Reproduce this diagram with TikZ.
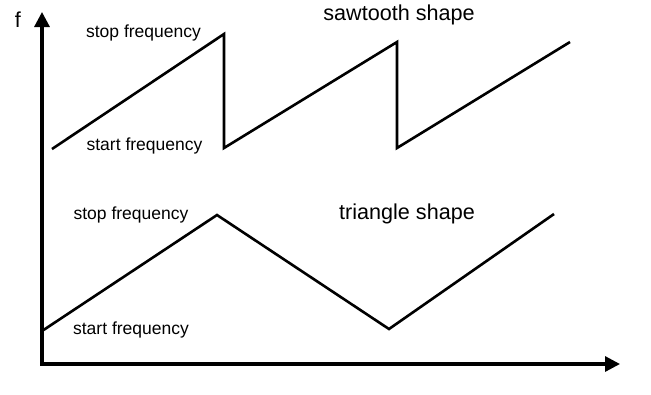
\documentclass[tikz,border=0pt]{standalone}
\usepackage{fontspec}
\setmainfont{Liberation Sans}
\usetikzlibrary{arrows.meta}
\tikzset{
  tip/.tip={Triangle[length=15bp,width=15bp]},
  axis/.style={line width=3.2bp, tip-tip},
  curve/.style={line width=2.6bp, line join=miter},
  small/.style={font=\fontsize{17.5bp}{20bp}\selectfont, inner sep=0pt},
  big/.style={font=\fontsize{21.6bp}{24bp}\selectfont, inner sep=0pt}
}
\begin{document}
\begin{tikzpicture}[x=1bp,y=-1bp]
\useasboundingbox (0,0) rectangle (651,394);
% axes
\coordinate (o) at (42,364);
\coordinate (ytip) at (42,12);
\coordinate (xtip) at (620,364);
\draw[axis] (ytip) -- (o) -- (xtip);
\node[big] (f) at (18,20) {f};
% sawtooth
\coordinate (s0) at (52,149);
\coordinate (s1) at (224,34);
\coordinate (s2) at (224,148);
\coordinate (s3) at (397,42);
\coordinate (s4) at (397,148);
\coordinate (s5) at (570,42);
\draw[curve] (s0) -- (s1) -- (s2) -- (s3) -- (s4) -- (s5);
% triangle
\coordinate (t0) at (42,331);
\coordinate (t1) at (217,215);
\coordinate (t2) at (389,329);
\coordinate (t3) at (554,214);
\draw[curve] (t0) -- (t1) -- (t2) -- (t3);
% labels
\node[small] (stop1) at (143.5,33) {stop frequency};
\node[small] (start1) at (144.5,146) {start frequency};
\node[big] (saw) at (399,15) {sawtooth shape};
\node[small] (stop2) at (131,215) {stop frequency};
\node[small] (start2) at (131,330) {start frequency};
\node[big] (tri) at (407,214) {triangle shape};
\end{tikzpicture}
\end{document}
